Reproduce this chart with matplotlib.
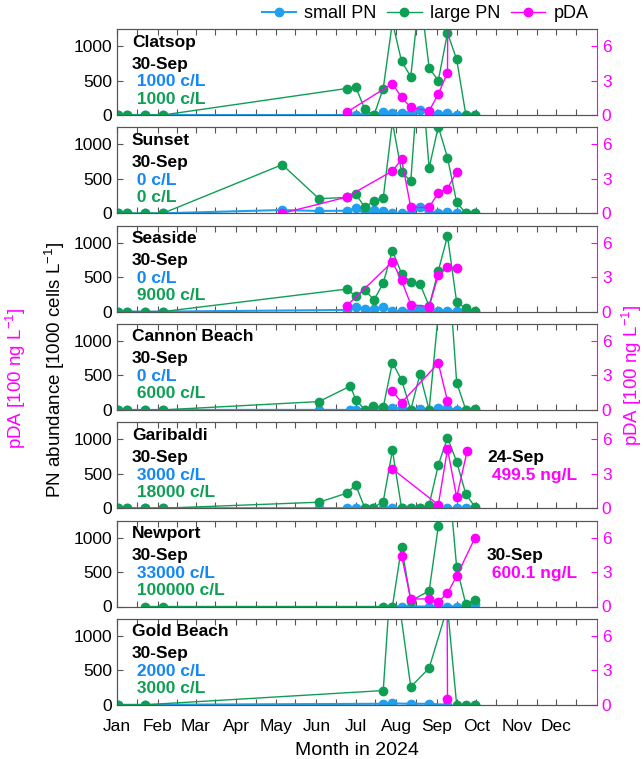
import numpy as np
import pandas as pd
import matplotlib
matplotlib.use("Agg")
import matplotlib.pyplot as plt
from matplotlib.lines import Line2D

plt.rcParams['font.family'] = ['Liberation Sans', 'DejaVu Sans']
plt.rcParams['mathtext.fontset'] = 'custom'
plt.rcParams['mathtext.rm'] = 'Liberation Sans'
plt.rcParams['mathtext.it'] = 'Liberation Sans:italic'

# ---------------------------------------------------------------------------
# data (PN in 1000 cells/L, pDA in 100 ng/L)
# ---------------------------------------------------------------------------
nan = np.nan

clatsop_dates = ["01-02", "01-09", "01-22", "02-05", "06-24", "07-01", "07-08", "07-15",
                 "07-22", "07-29", "08-05", "08-12", "08-19", "08-26", "09-02", "09-09",
                 "09-16", "09-23", "09-30"]
clatsop_small = [0, 0, 0, 0, 0, 0, 0, 0, 40, 25, 25, 25, 70, 25, 10, 25, 0, 0, 1]
clatsop_large = [0, 0, 0, 0, 385, 409, 82, 0, 385, 1350, 779, 558, 1790, 683, 500, 1192,
                 808, 0, 1]
clatsop_pda_dates = ["06-24", "07-29", "08-05", "08-12", "08-26", "09-02", "09-09", "09-10"]
clatsop_pda = [0.23, 2.74, 1.53, 0.66, 0.35, 1.85, 3.67, 25]

sunset_dates = ["01-02", "01-09", "01-22", "02-05", "05-06", "06-03", "06-24", "07-01",
                "07-08", "07-15", "07-22", "07-29", "08-05", "08-12", "08-19", "08-26",
                "09-02", "09-09", "09-16", "09-23", "09-30"]
sunset_small = [0, 0, 0, 0, 48, 34, 38, 72, 0, 48, 38, 0, 0, 0, 87, 0, 0, 14, 0, 0, 0]
sunset_large = [0, 0, 0, 0, 707, 212, 231, 279, 87, 183, 221, 1327, 601, 466, 2300, 659,
                1260, 808, 159, 0, 0]
sunset_pda_dates = ["05-06", "06-24", "07-29", "08-05", "08-12", "08-26", "09-02", "09-09",
                    "09-16"]
sunset_pda = [0, 1.41, 3.69, 4.70, 0.52, 0.52, 1.79, 2.16, 3.61]

seaside_dates = ["01-02", "01-09", "01-22", "02-05", "06-24", "07-01", "07-08", "07-15",
                 "07-22", "07-29", "08-05", "08-12", "08-19", "08-26", "09-02", "09-09",
                 "09-16", "09-23", "09-30"]
seaside_small = [0, 0, 0, 0, 24, 63, 39, 39, 63, 10, 10, 10, 34, 0, 10, 10, 10, 10, 0]
seaside_large = [0, 0, 0, 0, 327, 226, 313, 168, 418, 885, 553, 428, 399, 82, 592, 1097,
                 135, 48, 9]
seaside_pda_dates = ["06-24", "07-29", "08-05", "08-12", "08-26", "09-02", "09-09", "09-16"]
seaside_pda = [0.49, 4.34, 2.72, 0.61, 0.43, 3.18, 3.85, 3.76]

cannon_dates = ["01-02", "01-09", "01-22", "02-05", "06-03", "06-27", "07-01", "07-08",
                "07-14", "07-22", "07-29", "08-05", "08-12", "08-19", "08-26", "09-02",
                "09-09", "09-16", "09-23", "09-30"]
cannon_small = [0, 0, 0, 0, 0, 0, 0, 0, 24, 24, 24, 24, 0, 10, 0, 24, 24, 0, 0, 0]
cannon_large = [0, 0, 0, 0, 121, 347, 150, 0, 63, 39, 686, 435, 0, 517, 0, 1400, 2300,
                396, 0, 6]
cannon_pda_dates = ["07-29", "08-05", "09-02", "09-09"]
cannon_pda = [1.65, 0.64, 4.07, 0.78]

garibaldi_dates = ["01-02", "01-09", "01-22", "02-05", "06-03", "06-24", "07-01", "07-08",
                   "07-14", "07-22", "07-29", "08-05", "08-12", "08-19", "08-26", "09-02",
                   "09-09", "09-16", "09-23", "09-30"]
garibaldi_small = [0, 0, 0, 0, 0, 0, 0, 0, 0, 0, 0, 0, 0, 0, 0, 0, 0, 0, 0, 3]
garibaldi_large = [0, 0, 0, 0, 87, 217, 338, 0, 0, 97, 841, 0, 0, 0, 48, 628, 1024, 676,
                   203, 18]
garibaldi_pda_dates = ["07-29", "09-02", "09-09", "09-16", "09-24"]
garibaldi_pda = [3.42, 0.29, 5.16, 0.96, 4.995]

newport_dates = ["01-22", "02-05", "07-22", "07-29", "08-05", "08-12", "08-26", "09-02",
                 "09-09", "09-16", "09-23", "09-30"]
newport_small = [nan, nan, nan, 0, 0, 0, 0, 0, 0, 0, 0, 33]
newport_large = [0, 0, 0, 0, 870, 82, 227, 1169, 2073, 568, 34, 100]
newport_pda_dates = ["08-05", "08-12", "08-26", "09-02", "09-09", "09-16", "09-30"]
newport_pda = [4.42, 0.66, 0.66, 0.43, 1.16, 2.66, 6.001]

goldbeach_dates = ["01-02", "01-22", "07-22", "07-29", "08-12", "08-26", "09-09", "09-16",
                   "09-23", "09-30"]
goldbeach_small = [0, 0, 15, 20, 15, 15, 0, nan, nan, 2]
goldbeach_large = [0, 0, 207, 2200, 260, 534, 1420, 0, 0, 3]
goldbeach_pda_dates = ["09-08", "09-09"]
goldbeach_pda = [30, 0.52]

site_names = ["Clatsop", "Sunset", "Seaside", "Cannon Beach", "Garibaldi", "Newport",
              "Gold Beach"]
last_dates = ["30-Sep"] * 7
last_small_txt = ["1000 c/L", "0 c/L", "0 c/L", "0 c/L", "3000 c/L", "33000 c/L", "2000 c/L"]
last_large_txt = ["1000 c/L", "0 c/L", "9000 c/L", "6000 c/L", "18000 c/L", "100000 c/L",
                  "3000 c/L"]
pda_note = {4: ("24-Sep", "499.5 ng/L"), 5: ("30-Sep", "600.1 ng/L")}

month_labels = ["Jan", "Feb", "Mar", "Apr", "May", "Jun", "Jul", "Aug", "Sep", "Oct",
                "Nov", "Dec"]

sites = [
    (clatsop_dates, clatsop_small, clatsop_large, clatsop_pda_dates, clatsop_pda),
    (sunset_dates, sunset_small, sunset_large, sunset_pda_dates, sunset_pda),
    (seaside_dates, seaside_small, seaside_large, seaside_pda_dates, seaside_pda),
    (cannon_dates, cannon_small, cannon_large, cannon_pda_dates, cannon_pda),
    (garibaldi_dates, garibaldi_small, garibaldi_large, garibaldi_pda_dates, garibaldi_pda),
    (newport_dates, newport_small, newport_large, newport_pda_dates, newport_pda),
    (goldbeach_dates, goldbeach_small, goldbeach_large, goldbeach_pda_dates, goldbeach_pda),
]

# ---------------------------------------------------------------------------
# styling
# ---------------------------------------------------------------------------
C_SMALL = '#1FA0F0'
C_SMALL_TXT = '#1287F5'
C_LARGE = '#0E9F55'
C_PDA = '#FF00FF'
C_SPINE = '#555555'
FS = 12.5
MS = 6.0


def to_dt(mmdd):
    return pd.to_datetime(["2024-" + d for d in mmdd])


W, H = 644, 759
fig = plt.figure(figsize=(W / 100, H / 100), dpi=100)

left_px, width_px, height_px = 117, 480, 86
tops = [29 + 98.3 * i for i in range(7)]

month_ticks = pd.date_range("2024-01-01", periods=12, freq="MS")
minor_ticks = [pd.Timestamp(2024, m, 16) for m in range(1, 13)]

for i, (dts, small, large, pdts, pda) in enumerate(sites):
    top = tops[i]
    ax = fig.add_axes([left_px / W, 1 - (top + height_px) / H, width_px / W, height_px / H])
    ax2 = ax.twinx()

    x = to_dt(dts)
    ax.plot(x, small, '-o', color=C_SMALL, lw=1.5, ms=MS, mec=C_SMALL, zorder=2)
    ax.plot(x, large, '-o', color=C_LARGE, lw=1.0, ms=MS, mec=C_LARGE, zorder=3)
    ax2.plot(to_dt(pdts), pda, '-o', color=C_PDA, lw=1.0, ms=MS, mec=C_PDA)

    ax.set_xlim(pd.Timestamp("2024-01-01"), pd.Timestamp("2025-01-01"))
    ax.set_ylim(0, 1250)
    ax2.set_ylim(0, 7.5)
    ax.set_yticks([0, 500, 1000])
    ax2.set_yticks([0, 3, 6])

    ax.set_xticks(month_ticks)
    ax.set_xticks(minor_ticks, minor=True)
    if i == 6:
        ax.set_xticklabels(month_labels, fontsize=FS)
        ax.set_xlabel("Month in 2024", fontsize=14, labelpad=6)
    else:
        ax.set_xticklabels([])

    ax.tick_params(axis='both', which='both', direction='in', length=4, width=0.8,
                   colors=C_SPINE, labelcolor='black', labelsize=FS, top=True)
    ax.tick_params(axis='x', pad=10)
    ax2.tick_params(axis='y', direction='in', length=4, width=0.8, colors=C_PDA,
                    labelcolor=C_PDA, labelsize=FS)
    for s in ['left', 'bottom', 'top']:
        ax.spines[s].set_color(C_SPINE)
        ax2.spines[s].set_color(C_SPINE)
    ax.spines['right'].set_visible(False)
    ax2.spines['right'].set_color(C_PDA)

    # site annotation
    kw = dict(transform=ax2.transAxes, fontsize=FS, fontweight='bold', va='center',
              ha='left', zorder=10)
    ax2.text(0.031, 1 - 13 / 86, site_names[i], color='black', **kw)
    ax2.text(0.031, 1 - 35 / 86, last_dates[i], color='black', **kw)
    ax2.text(0.031, 1 - 53 / 86, " " + last_small_txt[i], color=C_SMALL_TXT, **kw)
    ax2.text(0.031, 1 - 70 / 86, " " + last_large_txt[i], color=C_LARGE, **kw)
    if i in pda_note:
        d, v = pda_note[i]
        ax2.text(0.771, 1 - 35 / 86, d, color='black', **kw)
        ax2.text(0.771, 1 - 53 / 86, " " + v, color=C_PDA, **kw)

# legend
handles = [
    Line2D([], [], color=C_SMALL, marker='o', ms=MS, lw=1.5, label='small PN'),
    Line2D([], [], color=C_LARGE, marker='o', ms=MS, lw=1.0, label='large PN'),
    Line2D([], [], color=C_PDA, marker='o', ms=MS, lw=1.0, label='pDA'),
]
fig.legend(handles=handles, loc='center', bbox_to_anchor=(425 / W, 1 - 14 / H), ncol=3,
           frameon=False, fontsize=13, handlelength=1.9, columnspacing=0.6,
           handletextpad=0.45, borderaxespad=0, borderpad=0)

# axis titles
fig.text(55 / W, 1 - 370 / H, 'PN abundance [1000 cells L$^{-1}$]', rotation=90,
         ha='center', va='center', fontsize=13.5)
fig.text(16 / W, 1 - 378 / H, 'pDA [100 ng L$^{-1}$]', rotation=90, color=C_PDA,
         ha='center', va='center', fontsize=13.5)
fig.text(632 / W, 1 - 375 / H, 'pDA [100 ng L$^{-1}$]', rotation=90, color=C_PDA,
         ha='center', va='center', fontsize=13.5)

fig.savefig("out.png", dpi=100)
